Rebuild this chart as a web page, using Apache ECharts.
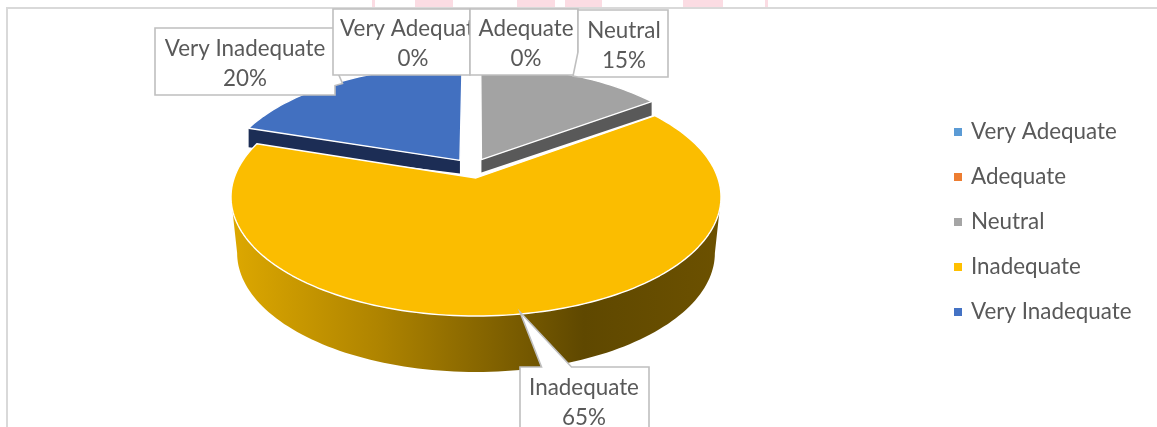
<!DOCTYPE html>
<html>
<head>
<meta charset="utf-8">
<style>html,body{margin:0;padding:0;background:#fff}#chart{width:1157px;height:427px}</style>
<script src="https://cdn.jsdelivr.net/npm/echarts@6/dist/echarts.min.js"></script>
</head>
<body>
<div id="chart"></div>
<script>
const categories = ['Very Adequate', 'Adequate', 'Neutral', 'Inadequate', 'Very Inadequate'];
const values = [0, 0, 15, 65, 20];
const legendColors = ['#5B9BD5', '#ED7D31', '#A5A5A5', '#FFC000', '#4472C4'];

const FONT = 'Lato, Carlito, "Open Sans", sans-serif';
const FS = 22.4;
const TEXT = '#595959';
const EDGE = '#BFBFBF';

// perspective of the pie plane
const view = { cx: 476, cy: 197, a: 245, b: 119, k: 0.16, depth: 56, lowerScale: 0.975 };
const faceStyles = {
  'Neutral': { top: '#A3A3A3', wall: '#595959', du: 0.023, dv: 0.163, r: 0.975, wallApex: 13, wallEnd: 14, z: 2 },
  'Very Inadequate': { top: '#4270C0', wall: '#1C2D55', du: -0.068, dv: 0.155, r: 0.99, wallApex: 13, wallEnd: 19, z: 2 },
  'Inadequate': {
    top: '#FBBD00', du: 0, dv: 0, r: 1, z: 3,
    wall: { type: 'linear', x: 0, y: 0, x2: 1, y2: 0, colorStops: [
      { offset: 0, color: '#DDA800' }, { offset: 0.3, color: '#AF8400' },
      { offset: 0.55, color: '#7F6000' }, { offset: 0.72, color: '#5F4800' },
      { offset: 1, color: '#6C5100' }] }
  }
};

function project(u, v, lower) {
  const d = 1 + view.k * v;
  const s = Math.sqrt(1 - view.k * view.k);
  const a = lower ? view.a * view.lowerScale : view.a;
  return [
    view.cx + a * s * u / d,
    view.cy + (lower ? view.depth : 0) - view.b * (v + view.k) / d
  ];
}
function rim(deg, st, lower) {
  const t = deg * Math.PI / 180;
  return project(Math.sin(t) * st.r + st.du, Math.cos(t) * st.r + st.dv, lower);
}
const total = values.reduce((s, x) => s + x, 0);
function sliceAngles(i) {
  let start = 0;
  for (let j = 0; j < i; j++) start += values[j];
  return [start / total * 360, (start + values[i]) / total * 360];
}
function arc(from, to, st, lower) {
  const pts = [];
  const n = Math.max(2, Math.ceil((to - from) / 1.5));
  for (let i = 0; i <= n; i++) pts.push(rim(from + (to - from) * i / n, st, lower));
  return pts;
}

const pieSeries = categories.map((name, i) => ({
  type: 'custom',
  name,
  coordinateSystem: 'none',
  silent: true,
  animation: false,
  z: (faceStyles[name] || { z: 2 }).z,
  itemStyle: { color: legendColors[i] },
  data: [[values[i]]],
  renderItem: function () {
    const st = faceStyles[name];
    if (!values[i] || !st) return { type: 'group', children: [] };
    const [from, to] = sliceAngles(i);
    const apex = project(st.du, st.dv, false);
    const top = [apex].concat(arc(from, to, st, false));
    const children = [];
    if (name === 'Inadequate') {
      // front band: between the two silhouette points of the ellipse
      const sideR = Math.acos(-view.k) * 180 / Math.PI;
      const sideL = 360 - sideR;
      children.push({
        type: 'polygon',
        shape: { points: arc(sideR, sideL, st, false).concat(arc(sideR, sideL, st, true).reverse()) },
        style: { fill: st.wall, stroke: null }
      });
    } else {
      const e = rim(name === 'Neutral' ? to : from, st, false);
      children.push({
        type: 'polygon',
        shape: { points: [apex, e, [e[0], e[1] + st.wallEnd], [apex[0], apex[1] + st.wallApex]] },
        style: { fill: st.wall, stroke: null }
      });
    }
    children.push({
      type: 'polygon',
      shape: { points: top },
      style: { fill: st.top, stroke: '#FFFFFF', lineWidth: 1.4, lineJoin: 'round' }
    });
    return { type: 'group', children };
  }
}));

const callouts = [
  { i: 4, x: 245, y: 63.5, pts: [[155,28],[335,28],[335,66],[342.5,83.5],[335,85.5],[335,95],[155,95]] },
  { i: 0, x: 413, y: 44, pts: [[333,9],[470,9],[470,75],[333,75]] },
  { i: 1, x: 526, y: 44, pts: [[470,9],[578,9],[578,75],[470,75]] },
  { i: 2, x: 624, y: 46, pts: [[578,10],[668,10],[668,77],[578,77],[573,76],[578,52]] },
  { i: 3, x: 584, y: 402.5, pts: [[520,367],[541.5,367],[520,312],[571.5,367],[649,367],[649,440],[520,440]] }
];
const calloutGraphics = [];
callouts.forEach((c, n) => {
  calloutGraphics.push({
    type: 'polygon', z: 20 + n * 2, silent: true,
    shape: { points: c.pts },
    style: { fill: '#FFFFFF', stroke: EDGE, lineWidth: 1.6 }
  });
  calloutGraphics.push({
    type: 'text', z: 21 + n * 2, silent: true,
    style: { x: c.x, y: c.y, text: categories[c.i] + '\n' + values[c.i] + '%', textAlign: 'center', textVerticalAlign: 'middle', lineHeight: 30, font: FS + 'px ' + FONT, fill: TEXT }
  });
});

const frame = [
  { type: 'rect', shape: { x: 6, y: 7, width: 1151, height: 2 }, style: { fill: '#D9D9D9' }, silent: true, z: 1 },
  { type: 'rect', shape: { x: 6, y: 7, width: 2, height: 420 }, style: { fill: '#D9D9D9' }, silent: true, z: 1 }
];
const pinkBars = [[372,3],[415,38],[517,38],[565,37],[683,40],[765,3]];
const pink = pinkBars.map(([x, w]) => ({
  type: 'rect', shape: { x, y: 0, width: w, height: 7 }, style: { fill: '#FBDCE3' }, silent: true, z: 1
}));

const chart = echarts.init(document.getElementById('chart'), null, { renderer: 'canvas' });
chart.setOption({
  animation: false,
  backgroundColor: '#FFFFFF',
  legend: {
    show: true,
    orient: 'vertical',
    left: 954,
    top: 121,
    padding: 0,
    data: categories,
    icon: 'rect',
    itemWidth: 8,
    itemHeight: 8,
    itemGap: 23,
    selectedMode: false,
    textStyle: { fontFamily: FONT, fontSize: FS, color: TEXT, padding: [0, 0, 0, 4] }
  },
  graphic: { elements: frame.concat(pink, calloutGraphics) },
  series: pieSeries
});
</script>
</body>
</html>
